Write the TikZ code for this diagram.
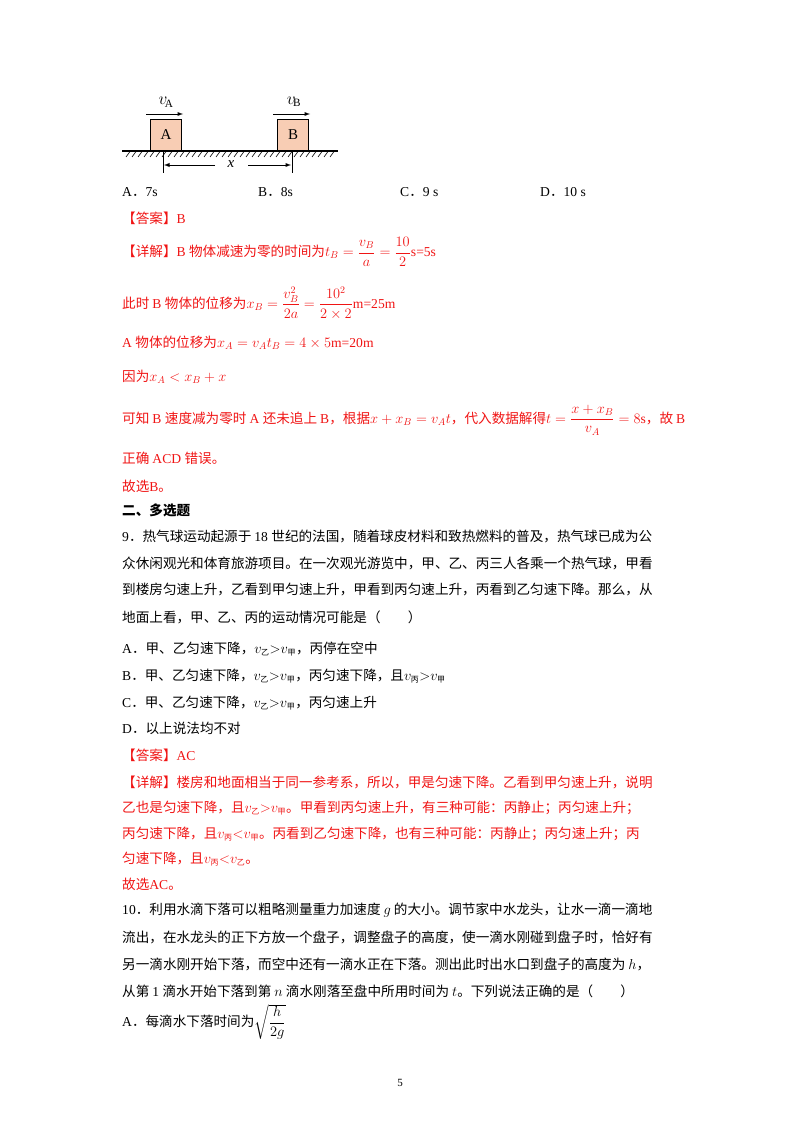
\documentclass[tikz,border=0pt]{standalone}
\usepackage{amsmath}
\usepackage{fontspec}
\setmainfont{Liberation Serif}
\newfontfamily\cjk{Noto Sans CJK SC}
\newcommand\latinfont{\rmfamily}
\XeTeXinterchartokenstate=1
\newXeTeXintercharclass\cjkclass
\count255="4E00
\loop\XeTeXcharclass\count255=\cjkclass\ifnum\count255<"9FFF\advance\count255 by 1\repeat
\count255="3000
\loop\XeTeXcharclass\count255=\cjkclass\ifnum\count255<"303F\advance\count255 by 1\repeat
\count255="FF00
\loop\XeTeXcharclass\count255=\cjkclass\ifnum\count255<"FFEF\advance\count255 by 1\repeat
\XeTeXinterchartoks 0 \cjkclass={\cjk}
\XeTeXinterchartoks 4095 \cjkclass={\cjk}
\XeTeXinterchartoks \cjkclass 0={\latinfont}
\XeTeXinterchartoks 4095 0={\latinfont}
\newcommand\sub[1]{_{\text{\fontsize{8}{9}\selectfont\cjk #1}}}
\definecolor{ans}{RGB}{240,20,20}
\definecolor{boxfill}{RGB}{248,205,180}
\begin{document}
\begin{tikzpicture}[x=1pt,y=-1pt,
  ln/.style={anchor=west,inner sep=0pt,font=\fontsize{13.6}{16}\selectfont},
  rd/.style={ln,text=ans},
  blk/.style={draw,line width=1.1pt,fill=boxfill,minimum width=31pt,minimum height=31pt,inner sep=0pt,font=\fontsize{15}{17}\selectfont},
  arr/.style={-latex,line width=0.9pt}]
\useasboundingbox (0,0) rectangle (800,1132);
% diagram
\draw[line width=1.3pt] (122,151) -- (338,151);
\foreach \i in {0,...,34} \draw[line width=0.6pt] ({126+6*\i},157) -- ({130+6*\i},151.5);
\node[blk,anchor=south west] (A) at (150,151) {A};
\node[blk,anchor=south west] (B) at (277,151) {B};
\draw[arr] (146,114) -- (183,114);
\draw[arr] (273,114) -- (310,114);
\node[font=\fontsize{16}{18}\selectfont] (vA) at (166,102) {$v_{\!\mathrm A}$};
\node[font=\fontsize{16}{18}\selectfont] (vB) at (294,102) {$v_{\!\mathrm B}$};
\coordinate (d1) at (163,151); \coordinate (d1b) at (163,173);
\coordinate (d2) at (292,151); \coordinate (d2b) at (292,173);
\draw[line width=0.8pt] (d1) -- (d1b) (d2) -- (d2b);
\node[font=\fontsize{15}{17}\selectfont\itshape] (xl) at (231,164) {x};
\draw[arr] (215,165) -- (164,165);
\draw[arr] (248,165) -- (291,165);
% options
\node[ln] (o1) at (122,192) {A．7s};
\node[ln] (o2) at (258,192) {B．8s};
\node[ln] (o3) at (400,192) {C．9 s};
\node[ln] (o4) at (540,192) {D．10 s};
\node[rd] (l1) at (122,218) {【答案】B};
\node[rd] (l2) at (122,252) {【详解】B 物体减速为零的时间为$t_B=\dfrac{v_B}{a}=\dfrac{10}{2}$\latinfont s=5s};
\node[rd] (l3) at (122,303) {此时 B 物体的位移为$x_B=\dfrac{v_B^2}{2a}=\dfrac{10^2}{2\times2}$\latinfont m=25m};
\node[rd] (l4) at (122,343) {A 物体的位移为$x_A=v_At_B=4\times5$\latinfont m=20m};
\node[rd] (l5) at (122,377) {因为$x_A<x_B+x$};
\node[rd] (l6) at (122,420) {可知 B 速度减为零时 A 还未追上 B，根据$x+x_B=v_At$，代入数据解得$t=\dfrac{x+x_B}{v_A}=8$\latinfont s，故 B};
\node[rd] (l7) at (122,458) {正确 ACD 错误。};
\node[rd] (l8) at (122,486) {故选B。};
\node[ln,font=\fontsize{13.6}{16}\selectfont\bfseries] (h2) at (122,510) {二、多选题};
\node[ln] (q1) at (122,536) {9．热气球运动起源于 18 世纪的法国，随着球皮材料和致热燃料的普及，热气球已成为公};
\node[ln] (q2) at (122,563) {众休闲观光和体育旅游项目。在一次观光游览中，甲、乙、丙三人各乘一个热气球，甲看};
\node[ln] (q3) at (122,590) {到楼房匀速上升，乙看到甲匀速上升，甲看到丙匀速上升，丙看到乙匀速下降。那么，从};
\node[ln] (q4) at (122,617) {地面上看，甲、乙、丙的运动情况可能是（\qquad）};
\node[ln] (a1) at (122,649) {A．甲、乙匀速下降，$v\sub{乙}{>}v\sub{甲}$，丙停在空中};
\node[ln] (a2) at (122,676) {B．甲、乙匀速下降，$v\sub{乙}{>}v\sub{甲}$，丙匀速下降，且$v\sub{丙}{>}v\sub{甲}$};
\node[ln] (a3) at (122,703) {C．甲、乙匀速下降，$v\sub{乙}{>}v\sub{甲}$，丙匀速上升};
\node[ln] (a4) at (122,728) {D．以上说法均不对};
\node[rd] (r1) at (122,755) {【答案】AC};
\node[rd] (r2) at (122,782) {【详解】楼房和地面相当于同一参考系，所以，甲是匀速下降。乙看到甲匀速上升，说明};
\node[rd] (r3) at (122,808) {乙也是匀速下降，且$v\sub{乙}{>}v\sub{甲}$。甲看到丙匀速上升，有三种可能：丙静止；丙匀速上升；};
\node[rd] (r4) at (122,834) {丙匀速下降，且$v\sub{丙}{<}v\sub{甲}$。丙看到乙匀速下降，也有三种可能：丙静止；丙匀速上升；丙};
\node[rd] (r5) at (122,859) {匀速下降，且$v\sub{丙}{<}v\sub{乙}$。};
\node[rd] (r6) at (122,884) {故选AC。};
\node[ln] (p1) at (122,910) {10．利用水滴下落可以粗略测量重力加速度 $g$ 的大小。调节家中水龙头，让水一滴一滴地};
\node[ln] (p2) at (122,937) {流出，在水龙头的正下方放一个盘子，调整盘子的高度，使一滴水刚碰到盘子时，恰好有};
\node[ln] (p3) at (122,964) {另一滴水刚开始下落，而空中还有一滴水正在下落。测出此时出水口到盘子的高度为 $h$，};
\node[ln] (p4) at (122,991) {从第 1 滴水开始下落到第 $n$ 滴水刚落至盘中所用时间为 $t$。下列说法正确的是（\qquad）};
\node[ln] (p5) at (122,1022) {A．每滴水下落时间为$\sqrt{\dfrac{h}{2g}}$};
\node[font=\fontsize{11}{13}\selectfont] (pg) at (400,1083) {5};
\end{tikzpicture}
\end{document}
